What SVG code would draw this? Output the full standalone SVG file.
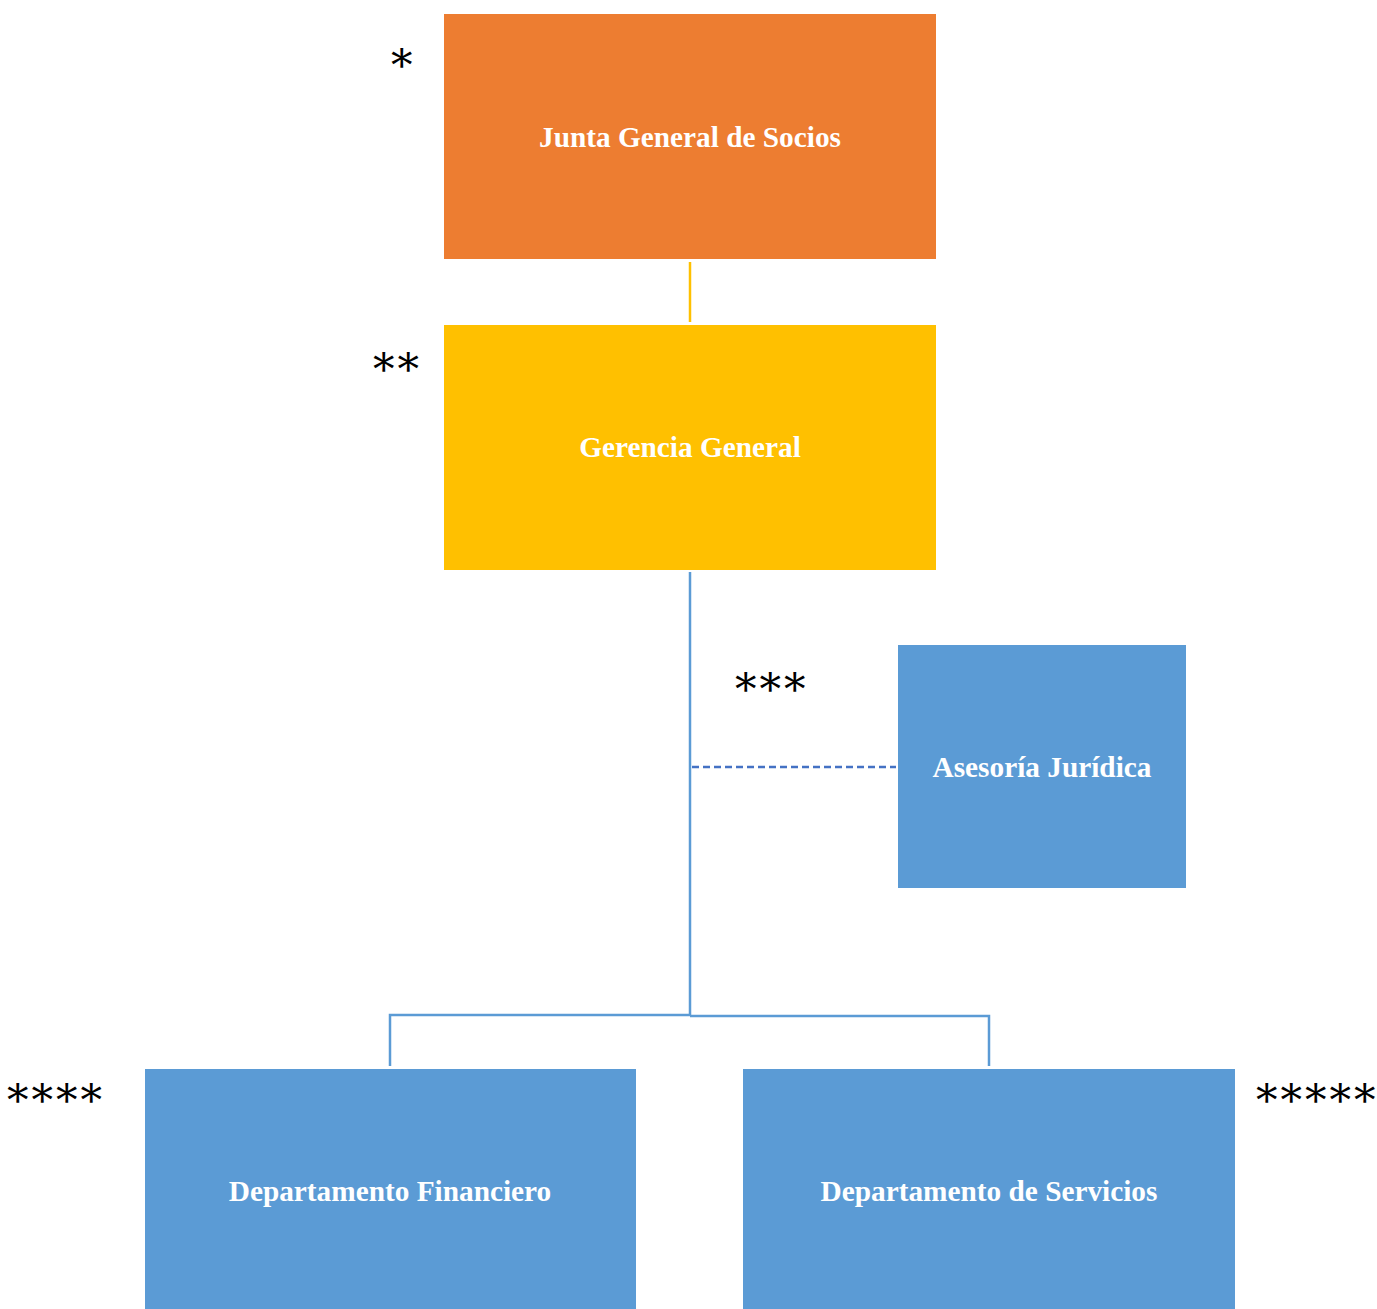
<svg xmlns="http://www.w3.org/2000/svg" width="1377" height="1309" viewBox="0 0 1377 1309">
  <style>
    .lbl { font-family: "Liberation Serif", "Times New Roman", serif; font-weight: bold; font-size: 29.3px; fill: #FFFFFF; text-anchor: middle; dominant-baseline: central; }
    .mark { font-family: "DejaVu Serif", "Liberation Serif", serif; font-size: 43px; fill: #000000; letter-spacing: 3px; }
    .blue { fill: #5B9BD5; }
    .link { fill: none; stroke: #5B9BD5; stroke-width: 2.5; }
  </style>
  <rect width="1377" height="1309" fill="#FFFFFF"/>

  <g id="connectors">
    <line x1="690" y1="262" x2="690" y2="322" stroke="#FFC000" stroke-width="2.5"/>
    <line class="link" x1="690" y1="572" x2="690" y2="1015"/>
    <line x1="692" y1="767" x2="896" y2="767" stroke="#4472C4" stroke-width="2.5" stroke-dasharray="7 4"/>
    <polyline class="link" points="390,1066 390,1015 690,1015"/>
    <polyline class="link" points="690,1016 989,1016 989,1066"/>
  </g>

  <g id="junta">
    <rect x="444" y="14" width="492" height="245" fill="#ED7D31"/>
    <text class="lbl" x="690" y="137">Junta General de Socios</text>
  </g>

  <g id="gerencia">
    <rect x="444" y="325" width="492" height="245" fill="#FFC000"/>
    <text class="lbl" x="690" y="447">Gerencia General</text>
  </g>

  <g id="asesoria">
    <rect class="blue" x="898" y="645" width="288" height="243"/>
    <text class="lbl" x="1042" y="767">Asesoría Jurídica</text>
  </g>

  <g id="financiero">
    <rect class="blue" x="145" y="1069" width="491" height="245"/>
    <text class="lbl" x="390" y="1191">Departamento Financiero</text>
  </g>

  <g id="servicios">
    <rect class="blue" x="743" y="1069" width="492" height="245"/>
    <text class="lbl" x="989" y="1191">Departamento de Servicios</text>
  </g>

  <g id="marks">
    <text class="mark" x="391" y="80">*</text>
    <text class="mark" x="373" y="384">**</text>
    <text class="mark" x="735" y="704">***</text>
    <text class="mark" x="7" y="1115">****</text>
    <text class="mark" x="1256" y="1115">*****</text>
  </g>
</svg>
